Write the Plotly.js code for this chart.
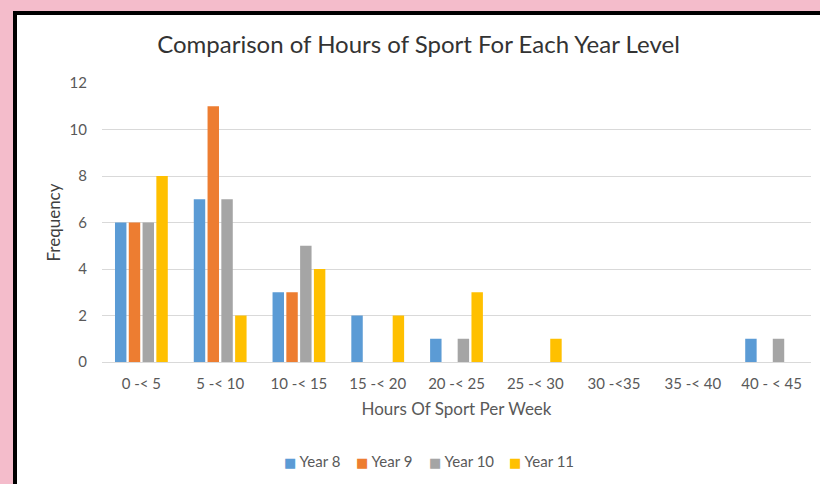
<!DOCTYPE html>
<html>
<head>
<meta charset="utf-8">
<script src="https://cdn.plot.ly/plotly-3.0.1.min.js"></script>
<style>
  html, body { margin: 0; padding: 0; width: 820px; height: 484px; overflow: hidden; background: #F4BCCB; }
  #frame { position: absolute; left: 13px; top: 11px; width: 807px; height: 473px; background: #000; }
  #chart { position: absolute; left: 4px; top: 4px; width: 803px; height: 469px; background: #fff; }
</style>
</head>
<body>
<div id="frame"><div id="chart"></div></div>
<script>
const categories = ["0 -< 5", "5 -< 10", "10 -< 15", "15 -< 20", "20 -< 25", "25 -< 30", "30 -<35", "35 -< 40", "40 - < 45"];
const year8  = [6, 7, 3, 2, 1, 0, 0, 0, 1];
const year9  = [6, 11, 3, 0, 0, 0, 0, 0, 0];
const year10 = [6, 7, 5, 0, 1, 0, 0, 0, 1];
const year11 = [8, 2, 4, 2, 3, 1, 0, 0, 0];
const seriesNames = ["Year 8", "Year 9", "Year 10", "Year 11"];
const colors = ["#5B9BD5", "#ED7D31", "#A5A5A5", "#FFC000"];
const yTicks = [0, 2, 4, 6, 8, 10, 12];

const font = "Lato, 'Open Sans', sans-serif";
const data = [year8, year9, year10, year11].map((vals, i) => ({
  type: "bar",
  x: categories,
  y: vals,
  name: seriesNames[i],
  marker: { color: colors[i] },
  hoverinfo: "x+y+name"
}));

// legend drawn as text annotations (Excel-style compact legend)
const legendX = [0.2538, 0.3555, 0.4585, 0.5713];
const annotations = seriesNames.map((n, i) => ({
  xref: "paper", yref: "paper",
  x: legendX[i], xanchor: "left",
  y: -0.355, yanchor: "middle",
  showarrow: false,
  text: '<span style="color:' + colors[i] + ';font-family:DejaVu Sans;font-size:13px">■</span> ' + n,
  font: { family: font, size: 15, color: "#595959" }
}));

const layout = {
  width: 803, height: 469,
  margin: { l: 85, r: 9, t: 68, b: 122 },
  paper_bgcolor: "#ffffff",
  plot_bgcolor: "#ffffff",
  barmode: "group",
  bargap: 0.30,
  bargroupgap: 0.17,
  font: { family: font, color: "#595959", size: 15 },
  title: {
    text: "Comparison of Hours of Sport For Each Year Level",
    font: { family: font, size: 24, color: "#333333" },
    x: 0.5, xanchor: "center", y: 1 - 30/469, yanchor: "middle"
  },
  xaxis: {
    type: "category",
    tickvals: categories,
    ticktext: categories,
    showgrid: false,
    showline: true, linecolor: "#D9D9D9", linewidth: 1,
    ticks: "",
    ticklabelstandoff: 8,
    tickfont: { size: 15, color: "#595959" },
    title: { text: "Hours Of Sport Per Week", font: { size: 17, color: "#595959" }, standoff: 12 }
  },
  yaxis: {
    range: [0, 12],
    tickvals: yTicks,
    ticktext: yTicks.map(String),
    showgrid: true, gridcolor: "#D9D9D9", gridwidth: 1,
    zeroline: false,
    showline: false,
    ticks: "",
    ticklabelstandoff: 14,
    tickfont: { size: 15, color: "#595959" },
    title: { text: "Frequency", font: { size: 17, color: "#404040" }, standoff: 4 }
  },
  annotations: annotations,
  showlegend: false
};

Plotly.newPlot("chart", data, layout, { displayModeBar: false, staticPlot: true });
</script>
</body>
</html>
